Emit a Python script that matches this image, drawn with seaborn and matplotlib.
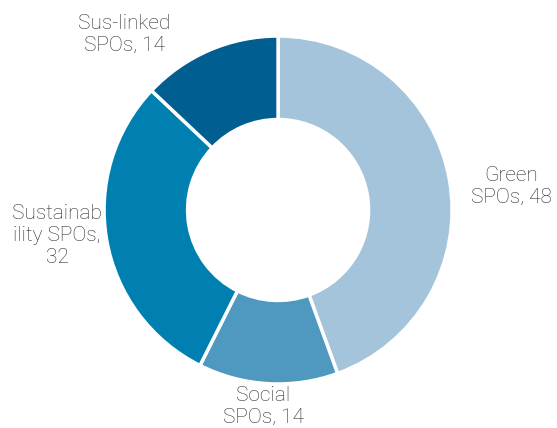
import matplotlib
matplotlib.use("Agg")
import matplotlib.pyplot as plt
import seaborn as sns

categories = ["Green SPOs", "Social SPOs", "Sustainability SPOs", "Sus-linked SPOs"]
values = [48, 14, 32, 14]
label_texts = ["Green\nSPOs, 48", "Social\nSPOs, 14", "Sustainab\nility SPOs,\n32", "Sus-linked\nSPOs, 14"]
colors = ["#a3c4da", "#4f99c1", "#0080b0", "#005e91"]

sns.set_theme(style="white")
plt.rcParams['font.family'] = ['Roboto', 'DejaVu Sans']

fig = plt.figure(figsize=(5.57, 4.28), dpi=100)
ax = fig.add_axes([0, 0, 1, 1])
wedges, _ = ax.pie(values, colors=colors, startangle=90, counterclock=False,
                   radius=1.0, wedgeprops=dict(width=0.48, edgecolor="white", linewidth=2.5))
ax.set_xlim(-1.598, 1.603)
ax.set_ylim(-1.253, 1.207)
ax.set_aspect('auto')
ax.axis('off')

label_pos = [(1.34, 0.135), (-0.086, -1.13), (-1.27, -0.144), (-0.882, 1.008)]
for txt, (x, y) in zip(label_texts, label_pos):
    ax.text(x, y, txt, ha='center', va='center', fontsize=15, color='#2b2b2b',
            fontweight='light', linespacing=1.2)

fig.savefig("out.png", dpi=100, facecolor='white')
